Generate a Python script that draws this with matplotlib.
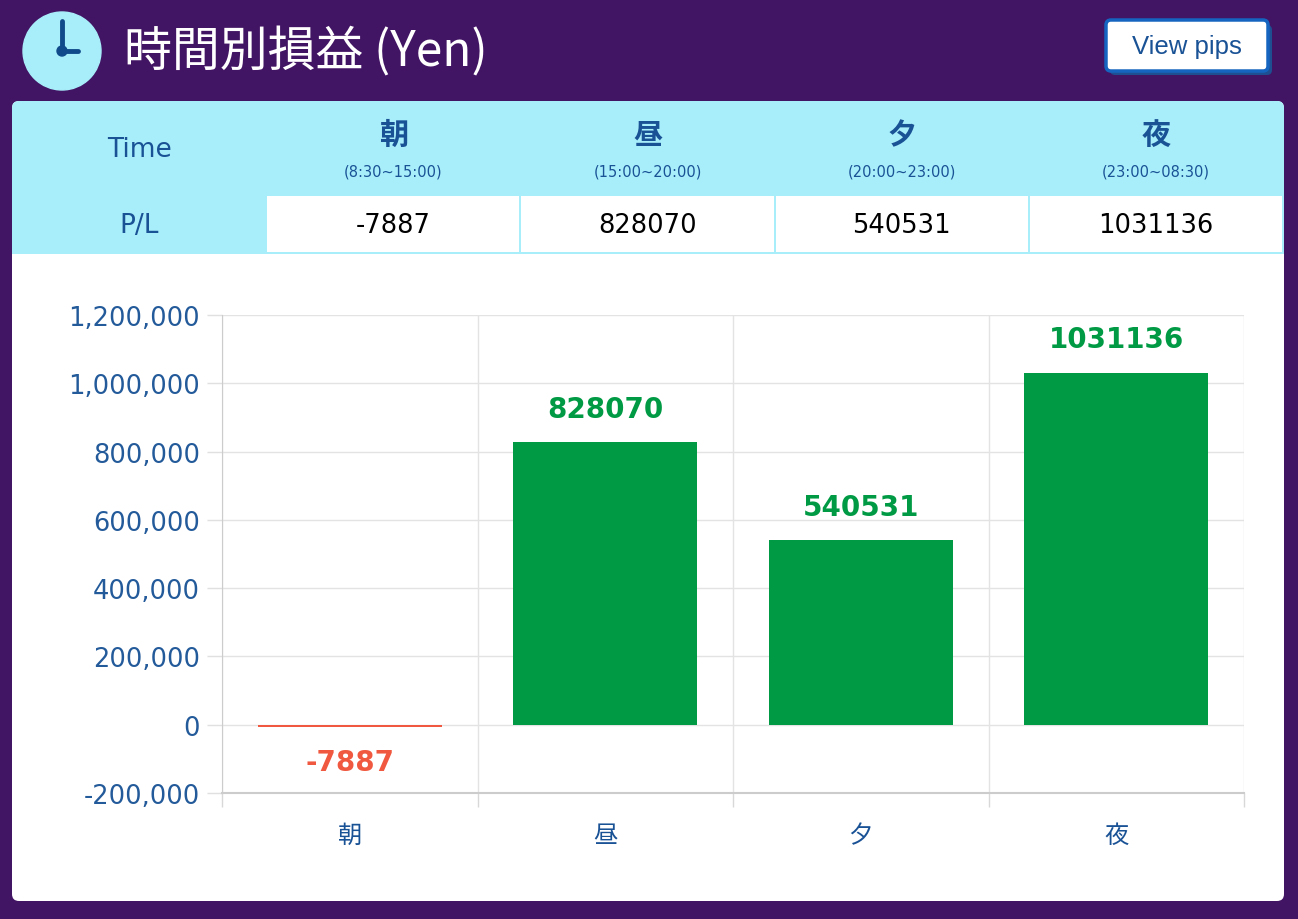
import matplotlib.pyplot as plt
from matplotlib.patches import FancyBboxPatch, Rectangle, Circle
from matplotlib.ticker import FuncFormatter, FixedLocator

# データ
categories = ['朝', '昼', '夕', '夜']
time_ranges = ['(8:30~15:00)', '(15:00~20:00)', '(20:00~23:00)', '(23:00~08:30)']
pl_values = [-7887, 828070, 540531, 1031136]
y_ticks = [-200000, 0, 200000, 400000, 600000, 800000, 1000000, 1200000]

plt.rcParams['font.family'] = ['DejaVu Sans', 'Noto Sans CJK JP']

W, H = 1298, 920
PURPLE = '#421464'
CYAN = '#a8eefa'
BLUE = '#1a5296'
GREEN = '#009a44'
RED = '#f0583f'

fig = plt.figure(figsize=(W / 100, H / 100), dpi=100)
fig.patch.set_facecolor(PURPLE)

# 背景用の軸（ピクセル座標）
bg = fig.add_axes([0, 0, 1, 1])
bg.set_xlim(0, W)
bg.set_ylim(H, 0)
bg.axis('off')

# 時計アイコン
bg.add_patch(Circle((62, 52), 39, color=CYAN))
bg.plot([62, 62], [52, 22], color='#114a8a', lw=3.5, solid_capstyle='round')
bg.plot([62, 78], [52, 52], color='#114a8a', lw=3.5, solid_capstyle='round')
bg.add_patch(Circle((62, 52), 5, color='#114a8a'))

# タイトル
bg.text(124, 52, '時間別損益 (Yen)', color='white', fontsize=34.5,
        family=['Noto Sans CJK JP', 'DejaVu Sans'], va='center', ha='left')

# View pips ボタン
bg.add_patch(FancyBboxPatch((1110, 26), 162, 50, boxstyle='round,pad=0,rounding_size=5',
                            fc='#1d4f91', ec='none'))
bg.add_patch(FancyBboxPatch((1106, 21), 162, 51, boxstyle='round,pad=0,rounding_size=5',
                            fc='white', ec='#1565c0', lw=2.5))
bg.text(1187, 47, 'View pips', color=BLUE, fontsize=18.5, ha='center', va='center',
        family=['Liberation Sans'])

# 白いカード
bg.add_patch(FancyBboxPatch((12, 102), 1272, 800, boxstyle='round,pad=0,rounding_size=7',
                            fc='white', ec='none'))

# 表
edges = [12 + i * 254.2 for i in range(len(categories) + 2)]
bg.add_patch(FancyBboxPatch((12, 102), 1272, 30, boxstyle='round,pad=0,rounding_size=7',
                            fc=CYAN, ec='none'))
bg.add_patch(Rectangle((12, 115), 1272, 140, fc=CYAN, ec='none'))
bg.text((edges[0] + edges[1]) / 2, 150, 'Time', color=BLUE, fontsize=19, ha='center', va='center')
bg.text((edges[0] + edges[1]) / 2, 226, 'P/L', color=BLUE, fontsize=19, ha='center', va='center')
for i, (cat, rng, val) in enumerate(zip(categories, time_ranges, pl_values)):
    x0, x1 = edges[i + 1], edges[i + 2]
    xc = (x0 + x1) / 2
    bg.text(xc, 135, cat, color=BLUE, fontsize=21, fontweight='bold', ha='center', va='center',
            family=['Noto Sans CJK JP'])
    bg.text(xc, 172, rng, color=BLUE, fontsize=10.5, ha='center', va='center')
    bg.add_patch(Rectangle((x0 + 1, 197), x1 - x0 - 2, 56, fc='white', ec='none'))
    bg.text(xc, 226, str(val), color='black', fontsize=18.5, ha='center', va='center')

# グラフ
ax = fig.add_axes([222 / W, (H - 794) / H, (1244 - 222) / W, (794 - 316) / H])
x = list(range(len(categories)))
colors = [GREEN if v >= 0 else RED for v in pl_values]
ax.bar(x, pl_values, width=0.72, color=colors, zorder=3)
for xi, v, c in zip(x, pl_values, colors):
    off = 24 if v >= 0 else -25
    ax.annotate(str(v), (xi, v), xytext=(0, off), textcoords='offset points',
                ha='center', va='center', color=c, fontsize=20, fontweight='bold')

ax.set_xlim(-0.5, len(categories) - 0.5)
ax.set_ylim(y_ticks[0], y_ticks[-1])
ax.set_yticks(y_ticks)
ax.yaxis.set_major_formatter(FuncFormatter(lambda v, p: f'{int(v):,}'))
ax.set_xticks(x)
ax.set_xticklabels(categories, family=['Noto Sans CJK JP'])
ax.xaxis.set_minor_locator(FixedLocator([i - 0.5 for i in range(len(categories) + 1)]))

ax.tick_params(axis='y', colors='#e0e0e0', labelcolor='#235a9a', labelsize=18.5, length=11, width=1, pad=5)
ax.tick_params(axis='x', which='major', length=0, labelcolor=BLUE, labelsize=17.5, pad=21)
ax.tick_params(axis='x', which='minor', length=10, color='#d8d8d8', width=1)
ax.grid(axis='y', color='#e3e3e3', lw=1, zorder=0)
ax.grid(axis='x', which='minor', color='#e3e3e3', lw=1, zorder=0)
for s in ['top', 'right']:
    ax.spines[s].set_visible(False)
ax.spines['left'].set_color('#cccccc')
ax.spines['bottom'].set_color('#cccccc')
ax.spines['bottom'].set_linewidth(1.5)
ax.set_facecolor('none')

fig.savefig('out.png', dpi=100, facecolor=PURPLE)
